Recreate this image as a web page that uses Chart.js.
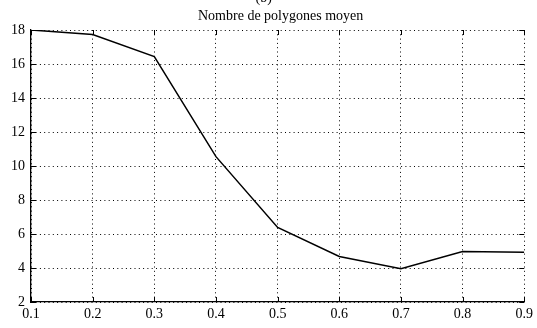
<!DOCTYPE html>
<html>
<head>
<meta charset="utf-8">
<script src="https://cdn.jsdelivr.net/npm/chart.js@4/dist/chart.umd.min.js"></script>
<style>
  html, body { margin: 0; padding: 0; background: #fff; }
  #wrap { width: 537px; height: 328px; }
</style>
</head>
<body>
<div id="wrap"><canvas id="c" width="537" height="328"></canvas></div>
<script>
// Mean number of polygons versus the parameter value
const xValues = [0.1, 0.2, 0.3, 0.4, 0.5, 0.6, 0.7, 0.8, 0.9];
const meanPolygons = [18.0, 17.74, 16.44, 10.55, 6.39, 4.68, 3.96, 4.97, 4.92];
const xTicks = [0.1, 0.2, 0.3, 0.4, 0.5, 0.6, 0.7, 0.8, 0.9];
const yTicks = [2, 4, 6, 8, 10, 12, 14, 16, 18];
const titleText = 'Nombre de polygones moyen';
const panelLabel = '(b)';

const FONT = '"Liberation Serif", "Times New Roman", serif';

// Inward tick marks on all four sides, plus the title and panel label
const frameMarks = {
  id: 'frameMarks',
  afterDatasetsDraw(chart) {
    const { ctx, chartArea: a, scales: { x, y } } = chart;
    const len = 5;
    ctx.save();
    ctx.strokeStyle = '#000';
    ctx.lineWidth = 1;
    ctx.beginPath();
    xTicks.forEach(v => {
      const px = Math.round(x.getPixelForValue(v)) + 0.5;
      ctx.moveTo(px, a.bottom); ctx.lineTo(px, a.bottom - len);
      ctx.moveTo(px, a.top); ctx.lineTo(px, a.top + len);
    });
    yTicks.forEach(v => {
      const py = Math.round(y.getPixelForValue(v)) + 0.5;
      ctx.moveTo(a.left, py); ctx.lineTo(a.left + len, py);
      ctx.moveTo(a.right, py); ctx.lineTo(a.right - len, py);
    });
    ctx.stroke();

    ctx.fillStyle = '#000';
    ctx.textAlign = 'center';
    ctx.textBaseline = 'alphabetic';
    ctx.font = '14px ' + FONT;
    ctx.fillText(titleText, (a.left + a.right) / 2 + 3, 20);
    ctx.fillText(panelLabel, (a.left + a.right) / 2 - 14, 2);
    ctx.restore();
  }
};

new Chart(document.getElementById('c'), {
  type: 'line',
  plugins: [frameMarks],
  data: {
    datasets: [{
      data: xValues.map((v, i) => ({ x: v, y: meanPolygons[i] })),
      borderColor: '#000',
      borderWidth: 1.5,
      pointRadius: 0,
      tension: 0,
      fill: false
    }]
  },
  options: {
    responsive: false,
    animation: false,
    layout: { padding: { top: 30, right: 9, left: 0, bottom: 0 } },
    plugins: { legend: { display: false }, tooltip: { enabled: false }, title: { display: false } },
    scales: {
      x: {
        type: 'linear',
        min: 0.1, max: 0.9,
        afterFit(s) { s.height = 26; },
        afterBuildTicks(s) { s.ticks = xTicks.map(v => ({ value: v })); },
        ticks: {
          color: '#000',
          font: { family: FONT, size: 14 },
          padding: 4,
          maxRotation: 0,
          callback: v => String(v)
        },
        grid: { color: '#000', lineWidth: 1, drawTicks: false },
        border: { display: true, color: '#000', width: 1.3, dash: [1, 3.3] }
      },
      y: {
        type: 'linear',
        min: 2, max: 18,
        afterFit(s) { s.width = 31; },
        afterBuildTicks(s) { s.ticks = yTicks.map(v => ({ value: v })); },
        ticks: {
          color: '#000',
          font: { family: FONT, size: 14 },
          padding: 6,
          callback: v => String(v)
        },
        grid: { color: '#000', lineWidth: 1, drawTicks: false },
        border: { display: true, color: '#000', width: 1.3, dash: [1, 3.3] }
      }
    }
  }
});
</script>
</body>
</html>
